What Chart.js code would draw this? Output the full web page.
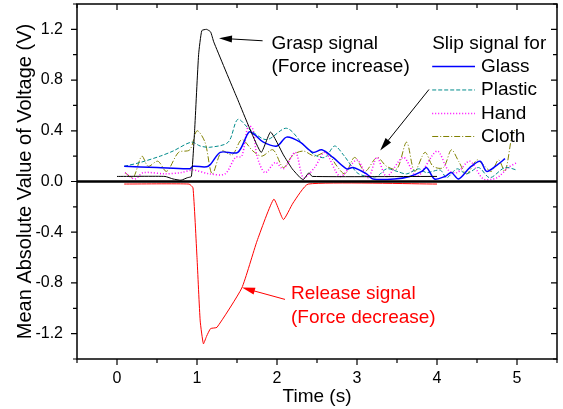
<!DOCTYPE html>
<html>
<head>
<meta charset="utf-8">
<script src="https://cdn.jsdelivr.net/npm/chart.js@4.4.0/dist/chart.umd.min.js"></script>
<style>
  html, body { margin: 0; padding: 0; background: #fff; }
  #wrap { width: 563px; height: 409px; }
</style>
</head>
<body>
<div id="wrap"><canvas id="chart"></canvas></div>
<script>
// data (time in s, MAV in V)
const graspT = [0.0, 0.6, 0.7, 0.8, 0.88, 0.93, 0.97, 1.02, 1.06, 1.12, 1.17, 1.21, 1.5, 1.8, 1.92, 2.08, 2.19, 2.29, 2.33, 2.4, 2.44, 4.0];
const graspV = [0.04, 0.04, 0.02, 0.01, 0.03, 0.04, 0.4, 1.0, 1.19, 1.2, 1.18, 1.1, 0.66, 0.23, 0.39, 0.21, 0.1, 0.03, 0.015, 0.07, 0.04, 0.04];

const releaseT = [0.09, 0.9, 0.95, 1.0, 1.04, 1.08, 1.12, 1.17, 1.25, 1.56, 1.75, 1.96, 2.08, 2.2, 2.39, 4.0];
const releaseV = [-0.02, -0.02, -0.05, -0.6, -1.1, -1.28, -1.22, -1.16, -1.15, -0.84, -0.47, -0.14, -0.30, -0.17, -0.02, -0.02];

const glassT = [0.09, 0.5, 0.91, 0.95, 1.14, 1.29, 1.51, 1.65, 1.72, 1.83, 2.0, 2.12, 2.29, 2.45, 2.56, 2.7, 2.87, 2.95, 3.12, 3.2, 3.47, 3.66, 3.81, 3.87, 3.97, 4.1, 4.18, 4.27, 4.41, 4.54, 4.62, 4.75, 4.85];
const glassV = [0.12, 0.11, 0.10, 0.12, 0.12, 0.23, 0.23, 0.39, 0.37, 0.31, 0.28, 0.35, 0.31, 0.23, 0.25, 0.19, 0.10, 0.11, 0.06, 0.02, 0.02, 0.04, 0.08, 0.11, 0.02, 0.04, 0.07, 0.02, 0.11, 0.16, 0.08, 0.13, 0.18];

const plasticT = [0.09, 0.29, 0.54, 0.7, 0.93, 1.04, 1.16, 1.39, 1.51, 1.66, 1.87, 2.12, 2.33, 2.47, 2.6, 2.72, 2.83, 3.0, 3.12, 3.25, 3.37, 3.5, 3.62, 3.77, 3.87, 4.04, 4.12, 4.25, 4.37, 4.52, 4.66, 4.85, 5.0];
const plasticV = [0.12, 0.15, 0.2, 0.24, 0.31, 0.28, 0.27, 0.31, 0.49, 0.41, 0.33, 0.42, 0.29, 0.21, 0.19, 0.28, 0.21, 0.07, 0.04, 0.04, 0.1, 0.08, 0.06, 0.1, 0.07, 0.09, 0.03, 0.1, 0.06, 0.11, 0.03, 0.11, 0.09];

const handT = [0.1, 0.22, 0.33, 0.6, 0.8, 0.95, 1.16, 1.35, 1.48, 1.56, 1.64, 1.7, 1.75, 1.85, 1.98, 2.08, 2.23, 2.33, 2.47, 2.6, 2.79, 3.0, 3.14, 3.25, 3.37, 3.58, 3.75, 4.0, 4.14, 4.25, 4.41, 4.58, 4.75, 4.89, 5.0];
const handV = [0.07, 0.02, 0.07, 0.06, 0.07, 0.09, 0.06, 0.06, 0.19, 0.2, 0.44, 0.41, 0.2, 0.07, 0.15, 0.1, 0.23, 0.03, 0.11, 0.23, 0.04, 0.17, 0.03, 0.19, 0.04, 0.19, 0.04, 0.24, 0.09, 0.07, 0.16, 0.02, 0.03, 0.11, 0.15];

const clothT = [0.1, 0.2, 0.31, 0.39, 0.51, 0.62, 0.77, 0.91, 1.0, 1.1, 1.19, 1.31, 1.44, 1.56, 1.7, 1.81, 1.95, 2.08, 2.2, 2.33, 2.47, 2.62, 2.75, 2.85, 2.97, 3.1, 3.25, 3.37, 3.5, 3.62, 3.72, 3.85, 3.95, 4.08, 4.18, 4.27, 4.37, 4.5, 4.58, 4.68, 4.77, 4.85, 4.94, 4.98];
const clothV = [0.07, 0.03, 0.2, 0.12, 0.16, 0.08, 0.23, 0.25, 0.4, 0.31, 0.06, 0.24, 0.21, 0.33, 0.24, 0.2, 0.25, 0.11, 0.21, 0.24, 0.2, 0.23, 0.12, 0.06, 0.19, 0.08, 0.19, 0.12, 0.1, 0.31, 0.08, 0.23, 0.12, 0.11, 0.25, 0.16, 0.06, 0.17, 0.13, 0.08, 0.17, 0.08, 0.37, 0.41];

const xTickLabels = [0, 1, 2, 3, 4, 5];
const yTickLabels = [-1.2, -0.8, -0.4, 0.0, 0.4, 0.8, 1.2];
const slipNames = ['Glass', 'Plastic', 'Hand', 'Cloth'];

const FONT = '"Liberation Sans", Arial, sans-serif';

function pts(ts, vs) {
    return ts.map((t, i) => ({ x: t, y: vs[i] }));
}

function series(label, ts, vs, color, width, dash, tension) {
    return {
        label: label,
        data: pts(ts, vs),
        borderColor: color,
        backgroundColor: color,
        borderWidth: width,
        borderDash: dash,
        pointRadius: 0,
        showLine: true,
        fill: false,
        tension: tension
    };
}

const datasets = [
    series('Grasp', graspT, graspV, '#000000', 1, [], 0.15),
    series('Release', releaseT, releaseV, '#ff0000', 1, [], 0.15),
    series(slipNames[0], glassT, glassV, '#0000ff', 1.5, [], 0.3),
    series(slipNames[1], plasticT, plasticV, '#008b8b', 1, [4, 2], 0.3),
    series(slipNames[2], handT, handV, '#ff00ff', 1.5, [1, 2], 0.3),
    series(slipNames[3], clothT, clothV, '#808000', 1, [6, 2, 1, 2], 0.3)
];

function arrow(ctx, x1, y1, x2, y2, color) {
    const ang = Math.atan2(y2 - y1, x2 - x1);
    const hl = 13, hw = 3.5;
    ctx.strokeStyle = color;
    ctx.fillStyle = color;
    ctx.lineWidth = 1;
    ctx.setLineDash([]);
    ctx.beginPath();
    ctx.moveTo(x1, y1);
    ctx.lineTo(x2 - Math.cos(ang) * hl * 0.8, y2 - Math.sin(ang) * hl * 0.8);
    ctx.stroke();
    ctx.beginPath();
    ctx.moveTo(x2, y2);
    ctx.lineTo(x2 - Math.cos(ang) * hl - Math.sin(ang) * hw, y2 - Math.sin(ang) * hl + Math.cos(ang) * hw);
    ctx.lineTo(x2 - Math.cos(ang) * hl + Math.sin(ang) * hw, y2 - Math.sin(ang) * hl - Math.cos(ang) * hw);
    ctx.closePath();
    ctx.fill();
}

// frame, ticks and the thick zero line
const framePlugin = {
    id: 'frame',
    afterDatasetsDraw(chart) {
        const { ctx, chartArea: a, scales: { x, y } } = chart;
        ctx.save();
        ctx.strokeStyle = '#000';
        ctx.setLineDash([]);

        const y0 = y.getPixelForValue(0);
        ctx.lineWidth = 2.5;
        ctx.beginPath();
        ctx.moveTo(a.left, y0);
        ctx.lineTo(a.right, y0);
        ctx.stroke();

        ctx.lineWidth = 1.5;
        ctx.strokeRect(a.left, a.top, a.right - a.left, a.bottom - a.top);

        ctx.lineWidth = 1.2;
        ctx.beginPath();
        x.ticks.forEach(t => {
            const px = x.getPixelForValue(t.value);
            const len = t.label !== '' ? 6 : 4;
            ctx.moveTo(px, a.bottom); ctx.lineTo(px, a.bottom + len);
            ctx.moveTo(px, a.top); ctx.lineTo(px, a.top + len);
        });
        y.ticks.forEach(t => {
            const py = y.getPixelForValue(t.value);
            const len = t.label !== '' ? 6 : 4;
            ctx.moveTo(a.left - len, py); ctx.lineTo(a.left, py);
            ctx.moveTo(a.right - len, py); ctx.lineTo(a.right, py);
        });
        ctx.stroke();
        ctx.restore();
    }
};

// text notes, arrows and the slip legend
const notesPlugin = {
    id: 'notes',
    afterDraw(chart) {
        const { ctx, scales: { x, y } } = chart;
        const X = v => x.getPixelForValue(v);
        const Y = v => y.getPixelForValue(v);
        ctx.save();
        ctx.font = '19px ' + FONT;
        ctx.textBaseline = 'middle';
        ctx.textAlign = 'left';

        ctx.fillStyle = '#000';
        ctx.fillText('Grasp signal', X(1.93), Y(1.09));
        ctx.fillText('(Force increase)', X(1.93), Y(0.905));
        arrow(ctx, X(1.82), Y(1.11), X(1.275), Y(1.13), '#000');

        ctx.fillStyle = '#ff0000';
        ctx.fillText('Release signal', X(2.175), Y(-0.884));
        ctx.fillText('(Force decrease)', X(2.175), Y(-1.075));
        arrow(ctx, X(2.1), Y(-0.93), X(1.5625), Y(-0.837), '#ff0000');

        ctx.fillStyle = '#000';
        ctx.fillText('Slip signal for', X(3.94), Y(1.09));
        arrow(ctx, X(3.9), Y(0.726), X(3.29), Y(0.245), '#000');

        const rows = [0.908, 0.722, 0.537, 0.355];
        datasets.slice(2).forEach((ds, i) => {
            const py = Y(rows[i]);
            ctx.strokeStyle = ds.borderColor;
            ctx.lineWidth = ds.borderWidth;
            ctx.setLineDash(ds.borderDash);
            ctx.beginPath();
            ctx.moveTo(X(3.94), py);
            ctx.lineTo(X(4.475), py);
            ctx.stroke();
            ctx.fillStyle = '#000';
            ctx.fillText(ds.label, X(4.55), py);
        });
        ctx.restore();
    }
};

new Chart(document.getElementById('chart'), {
    type: 'scatter',
    data: { datasets: datasets },
    options: {
        responsive: true,
        maintainAspectRatio: false,
        animation: false,
        layout: { padding: { top: 4, right: 6, left: 0, bottom: 0 } },
        plugins: {
            legend: { display: false },
            tooltip: { enabled: false }
        },
        scales: {
            x: {
                type: 'linear',
                min: -0.5,
                max: 5.5,
                afterBuildTicks: s => {
                    const arr = [];
                    for (let i = -1; i <= 11; i++) arr.push({ value: i / 2 });
                    s.ticks = arr;
                },
                afterFit: s => {
                    s.height = 50;
                    s.paddingLeft = 0;
                    s.paddingRight = 0;
                },
                grid: { display: false, drawTicks: false },
                border: { display: false },
                ticks: {
                    autoSkip: false,
                    maxRotation: 0,
                    padding: 10,
                    color: '#000',
                    font: { family: FONT, size: 16 },
                    callback: v => xTickLabels.includes(v) ? String(v) : ''
                },
                title: {
                    display: true,
                    text: 'Time (s)',
                    color: '#000',
                    font: { family: FONT, size: 19 },
                    padding: { top: 0, bottom: 1 }
                }
            },
            y: {
                type: 'linear',
                min: -1.4,
                max: 1.4,
                afterBuildTicks: s => {
                    const arr = [];
                    for (let i = -7; i <= 7; i++) arr.push({ value: i / 5 });
                    s.ticks = arr;
                },
                afterFit: s => {
                    s.width = 77;
                    s.paddingTop = 0;
                    s.paddingBottom = 0;
                },
                grid: { display: false, drawTicks: false },
                border: { display: false },
                ticks: {
                    autoSkip: false,
                    padding: 14,
                    color: '#000',
                    font: { family: FONT, size: 16 },
                    callback: v => {
                        const r = Math.round(v * 10) / 10;
                        return yTickLabels.some(l => Math.abs(l - r) < 1e-6) ? r.toFixed(1) : '';
                    }
                },
                title: {
                    display: true,
                    text: 'Mean Absolute Value of Voltage (V)',
                    color: '#000',
                    font: { family: FONT, size: 20 },
                    padding: { top: 13, bottom: 0 }
                }
            }
        }
    },
    plugins: [framePlugin, notesPlugin]
});
</script>
</body>
</html>
